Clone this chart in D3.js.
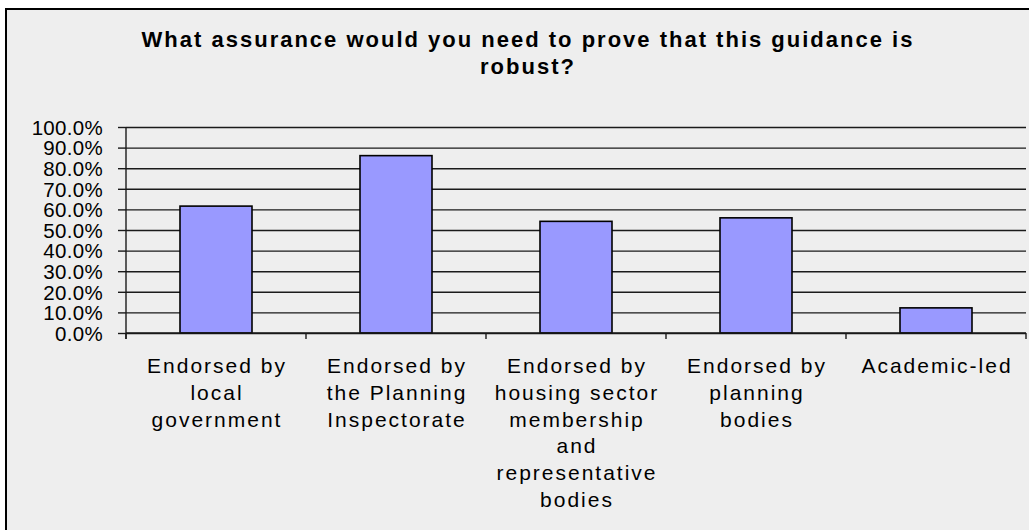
<!DOCTYPE html>
<html>
<head>
<meta charset="utf-8">
<script src="https://cdn.jsdelivr.net/npm/d3@7"></script>
<style>
  body { margin: 0; background: #fff; }
  svg text { font-family: "Liberation Sans", Arial, sans-serif; fill: #000; }
  .tickLabel text { font-size: 20.5px; letter-spacing: 0.3px; }
  .catLabel { font-size: 21px; letter-spacing: 2px; }
  .title { font-size: 22px; font-weight: bold; letter-spacing: 2px; }
</style>
</head>
<body>
<div class="chart"></div>
<script>
var svgWidth = 1029;
var svgHeight = 530;

var titleLines = ["What assurance would you need to prove that this guidance is", "robust?"];

var categories = ["Endorsed by local government", "Endorsed by the Planning Inspectorate",
    "Endorsed by housing sector membership and representative bodies",
    "Endorsed by planning bodies", "Academic-led"];
// wrapped the way the source chart wraps them
var categoryLines = [
    ["Endorsed by", "local", "government"],
    ["Endorsed by", "the Planning", "Inspectorate"],
    ["Endorsed by", "housing sector", "membership", "and", "representative", "bodies"],
    ["Endorsed by", "planning", "bodies"],
    ["Academic-led"]
];
var values = [0.616, 0.861, 0.542, 0.559, 0.122];
var yTicks = [0, 0.1, 0.2, 0.3, 0.4, 0.5, 0.6, 0.7, 0.8, 0.9, 1.0];

var margin = {top: 127, left: 126, right: 3, bottom: 195};
var width = svgWidth - margin.left - margin.right;
var height = svgHeight - margin.top - margin.bottom - 2;

var barColor = "#9999ff";
var lineColor = "#1a1a1a";

var $svg = d3.select(".chart")
    .append("svg")
    .attr("width", svgWidth)
    .attr("height", svgHeight);

// chart area frame
$svg.append("rect")
    .attr("x", 6)
    .attr("y", 9)
    .attr("width", svgWidth + 10)
    .attr("height", svgHeight + 10)
    .attr("fill", "#eeeeee")
    .attr("stroke", "#000")
    .attr("stroke-width", 2);

$svg.selectAll(".title")
    .data(titleLines)
    .enter()
    .append("text")
    .attr("class", "title")
    .attr("x", 528)
    .attr("y", (d, i) => 47 + i * 27)
    .attr("text-anchor", "middle")
    .text(d => d);

var $chartGroup = $svg.append("g")
    .attr("transform", `translate(${margin.left}, ${margin.top})`);

var xScale = d3.scaleBand()
    .domain(categories)
    .range([0, width])
    .paddingInner(0.6)
    .paddingOuter(0.3);

var yScale = d3.scaleLinear()
    .domain([0, 1])
    .range([height, 0]);

// gridlines
$chartGroup.append("g")
    .attr("class", "grid")
    .call(d3.axisLeft(yScale).tickValues(yTicks).tickSize(-width).tickFormat(""))
    .call(g => g.select(".domain").remove())
    .call(g => g.selectAll("line").attr("stroke", lineColor).attr("stroke-width", 1.4));

$chartGroup.selectAll(".bar")
    .data(values)
    .enter()
    .append("rect")
    .attr("class", "bar")
    .attr("x", (d, i) => xScale(categories[i]))
    .attr("y", d => yScale(d))
    .attr("width", xScale.bandwidth())
    .attr("height", d => height - yScale(d))
    .attr("fill", barColor)
    .attr("stroke", "#000")
    .attr("stroke-width", 1.6);

// y axis with ticks + labels
var yAxis = d3.axisLeft(yScale)
    .tickValues(yTicks)
    .tickSize(8)
    .tickPadding(15)
    .tickFormat(d3.format(".1%"));

$chartGroup.append("g")
    .attr("class", "tickLabel")
    .call(yAxis)
    .call(g => g.select(".domain").remove())
    .call(g => g.selectAll("line").attr("stroke", lineColor).attr("stroke-width", 1.4))
    .call(g => g.selectAll("text").attr("dy", "0.36em"));

// axis lines
$chartGroup.append("line")
    .attr("x1", 0).attr("x2", 0)
    .attr("y1", 0).attr("y2", height + 6)
    .attr("stroke", lineColor).attr("stroke-width", 1.4);

$chartGroup.append("line")
    .attr("x1", 0).attr("x2", width)
    .attr("y1", height).attr("y2", height)
    .attr("stroke", lineColor).attr("stroke-width", 1.6);

var step = xScale.step();
$chartGroup.selectAll(".xTick")
    .data(d3.range(categories.length + 1))
    .enter()
    .append("line")
    .attr("class", "xTick")
    .attr("x1", d => xScale.range()[0] + d * step)
    .attr("x2", d => xScale.range()[0] + d * step)
    .attr("y1", height)
    .attr("y2", height + 6)
    .attr("stroke", lineColor)
    .attr("stroke-width", 1.4);

// category labels
var $cats = $chartGroup.selectAll(".catLabel")
    .data(categoryLines)
    .enter()
    .append("text")
    .attr("class", "catLabel")
    .attr("text-anchor", "middle")
    .attr("transform", (d, i) => `translate(${xScale(categories[i]) + xScale.bandwidth() / 2 + 1},${height + 40})`);

$cats.selectAll("tspan")
    .data(d => d)
    .enter()
    .append("tspan")
    .attr("x", 0)
    .attr("y", (d, i) => i * 26.8)
    .text(d => d);
</script>
</body>
</html>
